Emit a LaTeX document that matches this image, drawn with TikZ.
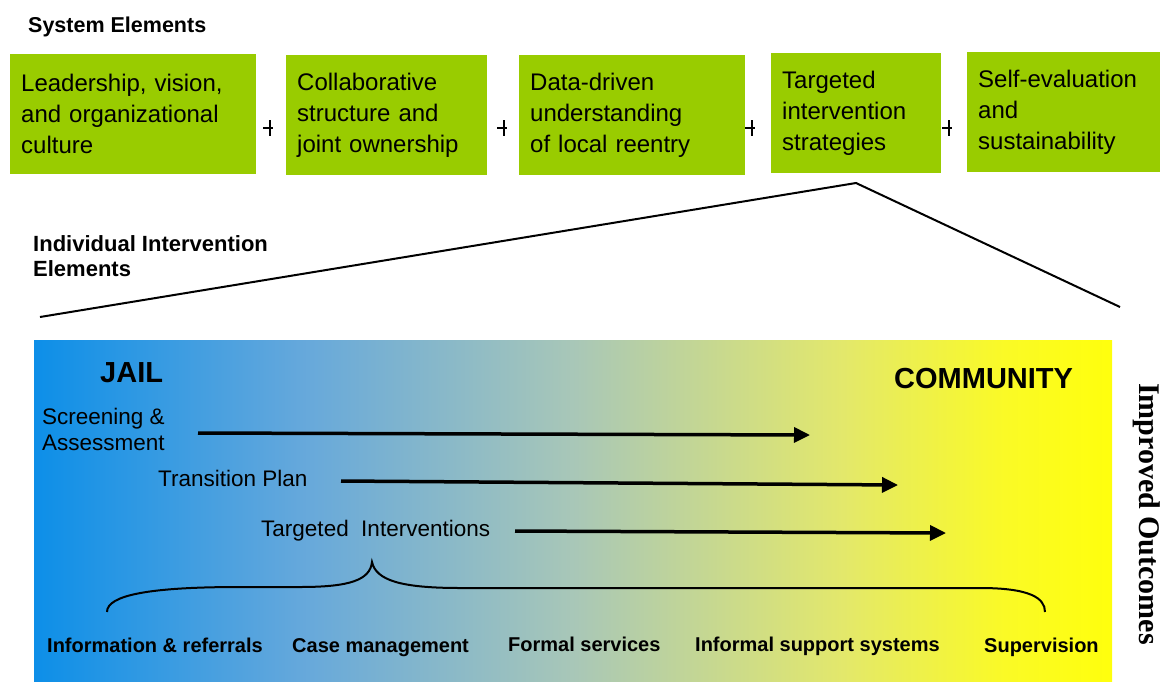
\documentclass[tikz,border=0pt]{standalone}
\usepackage{fontspec}
\setmainfont{Liberation Sans}
\newfontfamily\timesfam{Liberation Serif}
\usetikzlibrary{arrows.meta}
\definecolor{boxgreen}{RGB}{153,204,0}
\pgfdeclarehorizontalshading{jailcomm}{100bp}{rgb(0bp)=(0.05,0.56,0.91); rgb(25bp)=(0.05,0.56,0.91); rgb(37.5bp)=(0.40,0.66,0.86); rgb(50bp)=(0.66,0.78,0.72); rgb(62.5bp)=(0.89,0.91,0.42); rgb(70bp)=(0.98,0.98,0.15); rgb(75bp)=(1,1,0.05); rgb(100bp)=(1,1,0.05)}
\begin{document}
\begin{tikzpicture}[x=1pt,y=-1pt,
  sysbox/.style={fill=boxgreen, draw=none, minimum height=120pt, inner xsep=11pt, inner ysep=0pt,
    align=left, anchor=north west, font=\fontsize{24}{31}\selectfont},
  head/.style={anchor=base west, inner sep=0pt, font=\bfseries\fontsize{21.5}{25}\selectfont},
  big/.style={anchor=base west, inner sep=0pt, font=\bfseries\fontsize{29}{32}\selectfont},
  step label/.style={anchor=base west, inner sep=0pt, font=\fontsize{22.5}{26}\selectfont},
  bottomlbl/.style={anchor=base west, inner sep=0pt, font=\bfseries\fontsize{20}{24}\selectfont},
  pm/.style={line width=2.6pt, black},
  zoomline/.style={line width=2pt, black},
  arr/.style={line width=3.5pt, -{Triangle[length=16pt,width=15pt]}},
  bracepath/.style={line width=2pt, black}]
\useasboundingbox (0,0) rectangle (1162,681);

% system elements
\node[head] (sysel) at (28,32) {System Elements};
\node[sysbox, text width=224pt] (b1) at (10,54) {Leadership, vision,\\and organizational\\culture};
\node[sysbox, text width=179pt] (b2) at (286,55) {Collaborative\\structure and\\joint ownership};
\node[sysbox, text width=204pt] (b3) at (519,55) {Data-driven\\understanding\\of local reentry};
\node[sysbox, text width=148pt] (b4) at (771,53) {Targeted\\intervention\\strategies};
\node[sysbox, text width=171pt] (b5) at (967,52) {Self-evaluation\\and\\sustainability};

\foreach \vx in {270,504,752,949}
  \draw[pm] (\vx-7,128) -- (\vx+3,128) (\vx,120) -- (\vx,136);

% zoom lines
\coordinate (apex) at (856,183);
\coordinate (lend) at (40,317);
\coordinate (rend) at (1120,307);
\draw[zoomline] (lend) -- (apex) -- (rend);

\node[anchor=north west, inner sep=0pt, align=left, font=\bfseries\fontsize{22}{25}\selectfont] (indiv) at (33,235) {Individual Intervention\\Elements};

% gradient field
\node[shade, shading=jailcomm, draw=none, minimum width=1078pt, minimum height=341pt, inner sep=0pt, anchor=north west] (field) at (34,340) {};

\node[big] (jail) at (100,382) {JAIL};
\node[big] (comm) at (894,388) {COMMUNITY};

\node[anchor=north west, inner sep=0pt, align=left, font=\fontsize{22.5}{26}\selectfont] (screen) at (42,407.5) {Screening \&\\Assessment};
\node[step label] (trans) at (158,486) {Transition Plan};
\node[step label] (targ) at (261,536) {Targeted\ \ Interventions};

\coordinate (a1s) at (198,433); \coordinate (a1e) at (810,435);
\coordinate (a2s) at (341,481); \coordinate (a2e) at (898,485);
\coordinate (a3s) at (515,531); \coordinate (a3e) at (946,533);
\draw[arr] (a1s) -- (a1e);
\draw[arr] (a2s) -- (a2e);
\draw[arr] (a3s) -- (a3e);

% brace
\coordinate (bl) at (107,612);
\coordinate (bp) at (372,562);
\coordinate (br) at (1045,612);
\draw[bracepath] (bl) .. controls (107,595) and (150,587) .. (240,587) -- (300,587)
  .. controls (350,587) and (370,580) .. (bp)
  .. controls (376,580) and (400,588) .. (460,588) -- (980,588)
  .. controls (1030,588) and (1045,598) .. (br);

\node[bottomlbl] (info) at (47,652) {Information \& referrals};
\node[bottomlbl] (case) at (292,652) {Case management};
\node[bottomlbl] (formal) at (508,651) {Formal services};
\node[bottomlbl] (informal) at (695,651) {Informal support systems};
\node[bottomlbl] (superv) at (984,652) {Supervision};

\node[rotate=-90, inner sep=0pt, font=\timesfam\bfseries\fontsize{30}{32}\selectfont] (impr) at (1147,514) {Improved Outcomes};
\end{tikzpicture}
\end{document}
